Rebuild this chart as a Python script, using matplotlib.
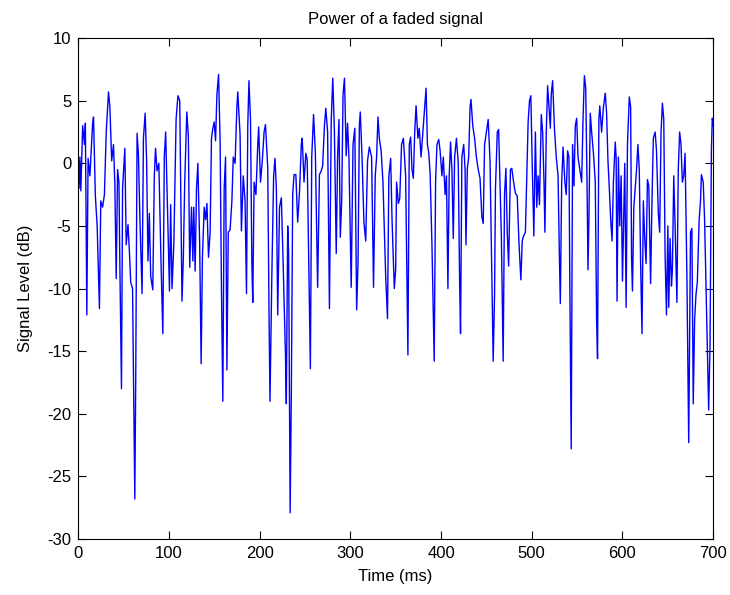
import matplotlib
matplotlib.use("Agg")
import matplotlib.pyplot as plt

# received power of a Rayleigh-faded signal (dB) versus time (ms)
time_ms = [0, 1, 2, 3, 5, 7, 8, 9.6, 11, 13, 16, 17, 19, 21, 23.5, 25, 27, 29, 31, 33.5,
           35, 37, 39, 40.5, 42, 43.5, 45, 46, 47.8, 49, 51.5, 53, 55, 56.5, 58, 60, 62.5, 63.5, 65, 66.5,
           68, 70.5, 72, 73.9, 75.5, 77, 78.5, 80, 82.3, 84, 85.3, 87, 89, 91.5, 93.4, 95, 96.5, 98.5, 100.7, 102,
           103.5, 105.5, 108, 110, 112, 114.5, 116, 117.5, 119.8, 121.5, 123, 125, 126.5, 127.5, 129, 130.5, 132, 134, 135.6, 137,
           139, 140.5, 142, 143.7, 145.5, 147, 148.5, 150, 151.5, 153, 154.8, 156.5, 158, 159.5, 161, 162.5, 164, 165.5, 167.5, 169.5,
           171, 173, 175, 176, 178.5, 180, 182, 184, 185.6, 187, 188.3, 190, 191.5, 192.5, 194, 196, 198, 199, 201, 203,
           205, 206.5, 209, 210.5, 211.5, 213.5, 215.5, 217, 218.5, 220, 222, 224, 226, 228.5, 229.5, 231, 232, 233.7, 235, 236.5,
           238, 240, 242, 244, 246, 247, 249, 251, 252.5, 254, 256, 257.5, 259.5, 261.5, 264, 266, 268, 269.5, 271.5, 273,
           275, 277, 279, 280.7, 282.5, 284.5, 286, 287.5, 289, 290.5, 292, 293.6, 295.5, 297, 298.5, 301, 303, 305, 307, 308.5,
           310, 311, 313, 315, 317, 319, 321, 323.5, 325.6, 327.5, 329, 330.5, 332, 334, 336, 339, 341, 342.5, 344.5, 346,
           348.5, 350, 351, 353, 354.5, 356.5, 358.5, 361, 362.5, 363.5, 365, 366.5, 368, 369.5, 371, 372.5, 374.5, 376, 378, 380,
           382, 383.5, 385, 386.5, 388, 390, 392.5, 394, 395.5, 397.5, 399, 401, 402.5, 404.5, 406, 407.6, 409, 410.5, 412, 413.5,
           415, 417, 419, 420.5, 421.5, 423, 425, 426.5, 427.5, 429, 430.5, 432, 433, 435, 437, 439, 441, 443, 445, 446.5,
           448, 450, 452, 454, 456, 457.5, 459, 460, 462, 463.5, 465, 466.5, 468.5, 470, 471.5, 473, 474.5, 476.5, 478, 480,
           482, 484, 486, 488, 489.5, 491, 493, 495, 496, 497.5, 499, 500.5, 502.3, 504, 505.5, 507, 508.5, 510.5, 512, 513.5,
           514.5, 516, 517.5, 519, 520.5, 521.5, 523, 525, 527, 529, 530.5, 531.5, 533, 534.5, 536.5, 538, 539.5, 541, 542, 543.5,
           545, 546.5, 548, 549.5, 551, 553, 555, 556.5, 558, 559.5, 561, 562, 563, 564.5, 566, 568, 570, 571.5, 572.5, 574,
           575, 577, 579, 581, 582.5, 584, 585.5, 587, 588.5, 590, 592, 593, 594, 595.5, 597, 598.5, 600, 601.5, 602.5, 604,
           605.5, 607.5, 609, 610, 611, 612.5, 614, 615.5, 617, 618.5, 620, 621.5, 623, 624.5, 626, 627.5, 629, 631, 632.5, 634,
           636, 637.5, 639.5, 641, 642.5, 644, 645.5, 647, 648.5, 650, 651, 652.5, 654, 655, 656.5, 658, 660, 661.5, 663, 664.5,
           666, 667.5, 669, 671, 673, 675, 676.5, 678, 679.5, 681, 682.5, 684.5, 686, 687, 689, 690.5, 692, 693.5, 695, 696.5,
           698, 699, 700]
level_db = [1.0, -2.0, 0.5, -2.2, 3.0, 1.5, 3.2, -12.1, 0.4, -1.0, 3.2, 3.7, -2.6, -5.0, -11.6, -3.0, -3.5, -2.5, 2.5, 5.7,
            4.5, 0.2, 1.5, -1.7, -9.2, -0.5, -1.5, -8.0, -18.0, -2.0, 1.2, -6.5, -4.9, -7.0, -9.5, -10.0, -26.8, -17.3, 2.4, 0.7,
            -4.1, -10.4, 2.0, 4.0, 0.2, -7.8, -4.0, -9.0, -10.1, -1.0, 1.2, -0.6, 0.0, -8.3, -13.6, 0.5, 2.5, -3.5, -10.2, -3.3,
            -10.0, -6.5, 3.5, 5.4, 5.0, -11.0, -7.5, -1.5, 4.1, 2.2, -8.3, -3.5, -7.8, -3.5, -8.6, -2.0, 0.0, -6.5, -16.0, -7.5,
            -3.5, -4.5, -3.2, -7.5, -5.5, 2.0, 2.8, 3.3, 1.8, 5.5, 7.1, 1.8, -10.0, -19.0, -2.0, 0.5, -16.5, -5.5, -5.3, -3.0,
            0.5, 0.0, 4.5, 5.7, 2.3, -5.4, -1.0, -3.0, -10.4, 3.0, 6.6, 3.5, -8.0, -11.1, -1.5, -2.5, 1.5, 2.9, -1.5, 0.2,
            2.5, 3.1, -0.3, -12.5, -19.0, -9.0, -1.0, 0.4, -2.0, -12.1, -3.5, -2.75, -8.0, -15.2, -19.2, -5.0, -7.0, -27.9, -18.5, -2.5,
            -0.9, -0.9, -4.7, -2.3, 1.5, 2.0, -1.5, 0.8, 0.3, -7.0, -16.4, 0.5, 3.9, 0.8, -9.9, -0.9, -0.6, -0.2, 3.0, 4.4,
            2.5, -11.6, 3.5, 6.8, 2.5, -7.2, 0.5, 3.5, -5.9, -3.0, 5.5, 6.8, 0.6, 3.2, 0.5, -9.9, 1.5, 2.8, -11.7, -8.0,
            3.0, 4.1, 0.4, -4.7, -6.2, 0.2, 1.3, 0.5, -9.9, -1.0, 0.5, 3.7, 2.0, 1.0, -1.5, -9.0, -12.4, -1.0, 0.4, -4.5,
            -10.0, -8.5, -1.5, -3.2, -2.8, 1.5, 2.0, -1.0, -9.5, -15.3, 1.5, 2.1, -0.5, -1.2, 2.5, 4.6, 2.0, 2.8, 0.5, 2.5,
            4.5, 6.0, 1.5, 0.8, -0.8, -6.5, -15.8, -1.5, 1.5, 1.9, 1.0, -1.0, 0.5, -2.5, -1.0, -10.0, -1.0, 1.7, -0.5, -6.0,
            0.5, 2.0, 0.0, -9.5, -13.6, 0.5, 1.5, -0.5, -6.5, -0.4, 0.5, 4.5, 5.1, 3.0, 2.0, 0.5, -0.5, -1.2, -4.3, -4.8,
            1.5, 2.5, 3.5, 0.2, -9.0, -15.8, -10.5, -2.0, 2.5, 2.7, -1.5, -5.8, -15.8, -2.5, -0.4, -5.5, -8.2, -0.5, -0.4, -1.5,
            -2.4, -2.6, -6.5, -9.3, -6.2, -5.8, -5.5, 0.5, 3.3, 5.0, 5.4, 0.0, -5.8, 2.5, -3.5, -1.0, -3.3, 3.9, 2.5, -1.5,
            -5.5, 2.5, 6.2, 4.5, 2.8, 5.5, 6.6, 2.8, 0.5, -1.0, -7.5, -11.2, -1.5, 1.3, -1.5, -2.5, 1.0, 0.5, -10.0, -22.8,
            1.5, -1.8, 3.0, 3.6, 0.5, -0.5, -1.5, 3.5, 7.0, 6.0, -2.0, -8.5, -4.5, 4.0, 2.5, 0.8, -1.5, -12.5, -15.6, 3.5,
            4.6, 2.5, 4.5, 5.6, 4.0, 0.2, -2.0, -4.5, -6.2, -1.5, 1.7, 0.5, -11.0, 0.5, -5.0, -1.0, -9.4, -4.0, 0.0, -11.5,
            1.5, 5.3, 4.5, -7.5, -10.2, -3.5, -2.0, -0.5, 1.5, -0.5, -8.0, -13.6, -3.0, -6.0, -8.0, -1.3, -1.8, -9.6, -3.0, 2.0,
            2.5, 1.0, -4.0, -5.5, 2.5, 4.8, 3.5, -7.5, -12.1, -5.0, -11.5, -6.0, -9.8, -8.5, -1.0, -5.0, -11.1, -0.5, 2.5, 1.5,
            -1.5, -1.0, 0.8, -9.0, -22.3, -5.5, -5.2, -19.2, -12.5, -10.5, -9.5, -4.5, -3.0, -0.9, -1.5, -4.5, -9.5, -14.5, -19.7, -14.5,
            1.0, 3.6, 3.0]

plt.rcParams['font.family'] = ['Liberation Sans', 'DejaVu Sans']
plt.rcParams['font.size'] = 12
plt.rcParams['axes.unicode_minus'] = False

fig = plt.figure(figsize=(7.3, 5.95), dpi=100)
ax = fig.add_axes([0.107, 0.094, 0.870, 0.842])

ax.plot(time_ms, level_db, color=(0, 0, 1), linewidth=1.0)

ax.set_xlim(0, 700)
ax.set_ylim(-30, 10)
ax.set_xticks(range(0, 701, 100))
ax.set_yticks(range(-30, 11, 5))
ax.tick_params(direction='in', length=6, top=True, right=True, width=0.8, pad=5)
for s in ax.spines.values():
    s.set_linewidth(0.8)

ax.set_title("Power of a faded signal", fontsize=12, pad=10)
ax.set_xlabel("Time (ms)", labelpad=6)
ax.set_ylabel("Signal Level (dB)", labelpad=10)

fig.savefig("out.png", dpi=100)
